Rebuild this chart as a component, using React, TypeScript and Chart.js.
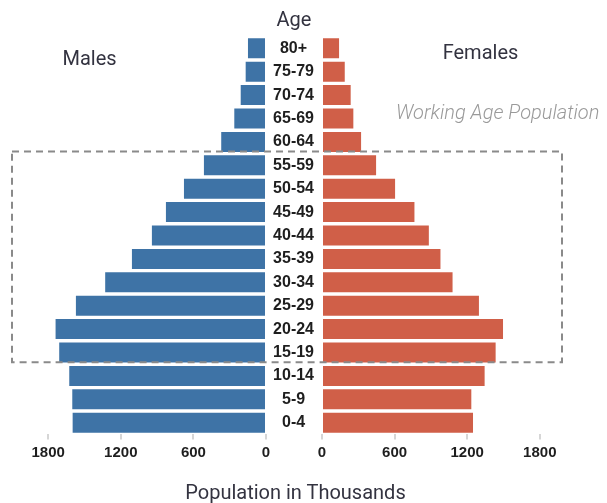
import React, { useEffect, useRef } from "react";
import { Chart, registerables } from "chart.js";

Chart.register(...registerables);

// ---------- data ----------
const ageGroups = ["80+", "75-79", "70-74", "65-69", "60-64", "55-59", "50-54", "45-49", "40-44", "35-39", "30-34", "25-29", "20-24", "15-19", "10-14", "5-9", "0-4"];
const males = [149, 168, 209, 262, 370, 513, 678, 827, 943, 1108, 1329, 1571, 1739, 1709, 1626, 1601, 1598];
const females = [141, 188, 237, 259, 323, 447, 604, 764, 883, 979, 1079, 1297, 1496, 1435, 1344, 1234, 1248];
const xTickValues = [0, 600, 1200, 1800];
const xMax = 2000;
const workingAgeFirst = "55-59";
const workingAgeLast = "15-19";

// ---------- layout / style ----------
const W = 607;
const H = 503;
const PLOT_TOP = 36.6;
const PLOT_BOTTOM = 434.4;
const AXIS_H = 24;
const LEFT_ZERO = 266;
const RIGHT_ZERO = 322;
const PLOT_W = 242;
const BLUE = "#3E73A6";
const RED = "#D05F48";
const TICK_FONT = { family: "'Liberation Sans', Arial, sans-serif", size: 15, weight: "bold" as const };
const AGE_FONT = { family: "'Liberation Sans', Arial, sans-serif", size: 16, weight: "bold" as const };

function xScaleOpts(reverse: boolean) {
  return {
    type: "linear" as const,
    min: 0,
    max: xMax,
    reverse,
    position: "bottom" as const,
    afterBuildTicks: (scale: any) => {
      scale.ticks = xTickValues.map((v) => ({ value: v }));
    },
    afterFit: (scale: any) => {
      scale.height = AXIS_H;
    },
    grid: {
      display: true,
      drawOnChartArea: false,
      drawTicks: true,
      tickLength: 5,
      color: "#d6d6d6",
      lineWidth: 2,
    },
    border: { display: false },
    ticks: {
      color: "#1e1e1e",
      font: TICK_FONT,
      padding: 4,
      maxRotation: 0,
      autoSkip: false,
      callback: (v: any) => String(v),
    },
  };
}

const boxPlugin = {
  id: "workingAgeBox",
  afterDraw(chart: any) {
    const y = chart.scales.y;
    const i0 = ageGroups.indexOf(workingAgeFirst);
    const i1 = ageGroups.indexOf(workingAgeLast);
    const top = y.getPixelForValue(i0 - 0.5) - 2;
    const bottom = y.getPixelForValue(i1 + 0.5) - 2;
    const left = 12;
    const right = chart.chartArea.right - 2;
    const ctx = chart.ctx;
    ctx.save();
    ctx.strokeStyle = "#8a8a8a";
    ctx.lineWidth = 2;
    ctx.setLineDash([7, 5]);
    ctx.strokeRect(left, top, right - left, bottom - top);
    ctx.restore();
  },
};

export default function App() {
  const leftRef = useRef<HTMLCanvasElement>(null);
  const rightRef = useRef<HTMLCanvasElement>(null);

  useEffect(() => {
    const left = new Chart(leftRef.current!, {
      type: "bar",
      data: {
        labels: ageGroups,
        datasets: [
          {
            label: "Males",
            data: males,
            backgroundColor: BLUE,
            borderWidth: 0,
            barPercentage: 0.855,
            categoryPercentage: 1,
          },
        ],
      },
      options: {
        indexAxis: "y",
        responsive: false,
        animation: false,
        events: [],
        layout: {
          padding: {
            left: LEFT_ZERO - PLOT_W,
            right: W - LEFT_ZERO,
            top: PLOT_TOP,
            bottom: H - PLOT_BOTTOM - AXIS_H,
          },
        },
        plugins: { legend: { display: false }, tooltip: { enabled: false }, title: { display: false } },
        scales: {
          x: xScaleOpts(true) as any,
          y: { type: "category", display: false, grid: { display: false } },
        },
      },
    });

    const right = new Chart(rightRef.current!, {
      type: "bar",
      data: {
        labels: ageGroups,
        datasets: [
          {
            label: "Females",
            data: females,
            backgroundColor: RED,
            borderWidth: 0,
            barPercentage: 0.855,
            categoryPercentage: 1,
          },
        ],
      },
      options: {
        indexAxis: "y",
        responsive: false,
        animation: false,
        events: [],
        layout: {
          padding: {
            left: LEFT_ZERO,
            right: W - RIGHT_ZERO - PLOT_W,
            top: PLOT_TOP,
            bottom: H - PLOT_BOTTOM - AXIS_H,
          },
        },
        plugins: { legend: { display: false }, tooltip: { enabled: false }, title: { display: false } },
        scales: {
          x: xScaleOpts(false) as any,
          y: {
            type: "category",
            position: "left",
            afterFit: (scale: any) => {
              scale.width = RIGHT_ZERO - LEFT_ZERO;
            },
            grid: { display: false, drawTicks: false },
            border: { display: false },
            ticks: {
              color: "#1e1e1e",
              font: AGE_FONT,
              crossAlign: "center",
              padding: 8,
              autoSkip: false,
            },
          },
        },
      },
      plugins: [boxPlugin],
    });

    return () => {
      left.destroy();
      right.destroy();
    };
  }, []);

  const base: React.CSSProperties = {
    position: "absolute",
    fontFamily: "Roboto, 'Open Sans', sans-serif",
    fontSize: 20,
    lineHeight: "20px",
    whiteSpace: "nowrap",
    color: "#333340",
  };
  const centered = (cx: number, top: number, text: string, extra: React.CSSProperties = {}) => (
    <div style={{ ...base, left: cx - 150, width: 300, top, textAlign: "center", ...extra }}>{text}</div>
  );

  return (
    <div style={{ position: "absolute", left: 0, top: 0, width: W, height: H, background: "#fff", overflow: "hidden" }}>
      <canvas ref={leftRef} width={W} height={H} style={{ position: "absolute", left: 0, top: 0, width: W, height: H }} />
      <canvas ref={rightRef} width={W} height={H} style={{ position: "absolute", left: 0, top: 0, width: W, height: H }} />
      {centered(294, 9, "Age")}
      {centered(89.5, 48, "Males")}
      {centered(480.5, 42, "Females")}
      <div style={{ ...base, left: 396, top: 102, fontStyle: "italic", fontWeight: 300, color: "#9a9a9a" }}>Working Age Population</div>
      {centered(295.5, 482, "Population in Thousands")}
    </div>
  );
}
